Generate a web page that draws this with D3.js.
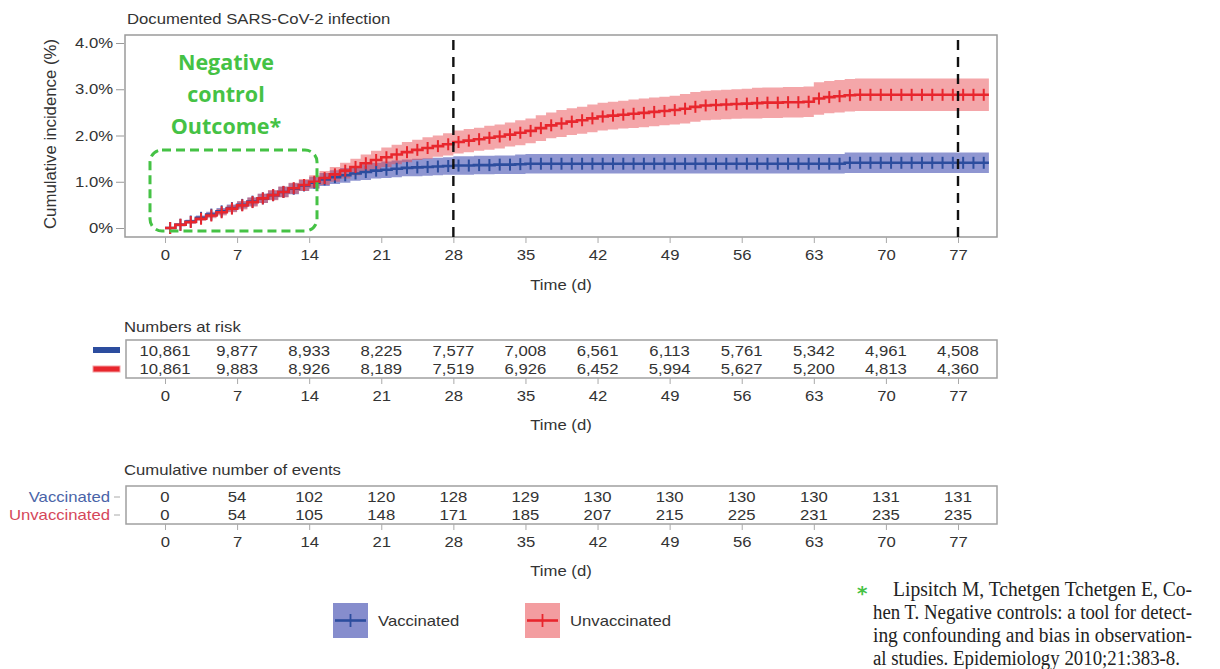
<!DOCTYPE html>
<html>
<head>
<meta charset="utf-8">
<script src="https://cdn.jsdelivr.net/npm/d3@7"></script>
<style>
  body { margin: 0; background: #fff; }
  svg text { font-family: "Liberation Sans", Arial, sans-serif; fill: #333; }
</style>
</head>
<body>
<svg id="chart" width="1220" height="669"></svg>
<script>
// ---- data ----
const tickDays = [0, 7, 14, 21, 28, 35, 42, 49, 56, 63, 70, 77];
const yTicks = [0, 1, 2, 3, 4];
const cutoffDays = [28, 77];
const days = d3.range(0, 81); // one estimate per day

// cumulative incidence (%), vaccinated
const vaxEst = [
  0.00, 0.07, 0.14, 0.22, 0.29, 0.36, 0.43, 0.50, 0.57, 0.64,
  0.71, 0.78, 0.85, 0.92, 0.98, 1.05, 1.10, 1.14, 1.18, 1.21,
  1.24, 1.26, 1.28, 1.30, 1.31, 1.32, 1.33, 1.34, 1.35, 1.35,
  1.36, 1.36, 1.37, 1.37, 1.38, 1.39, 1.39, 1.39, 1.39, 1.39,
  1.39, 1.39, 1.39, 1.39, 1.39, 1.39, 1.39, 1.39, 1.39, 1.39,
  1.39, 1.39, 1.39, 1.39, 1.39, 1.39, 1.39, 1.39, 1.39, 1.39,
  1.39, 1.39, 1.39, 1.39, 1.39, 1.39, 1.41, 1.41, 1.41, 1.41,
  1.41, 1.41, 1.41, 1.41, 1.41, 1.41, 1.41, 1.41, 1.41, 1.41,
  1.41
];
// half width of the 95% band, vaccinated
const vaxHalf = [
  0.00, 0.03, 0.04, 0.05, 0.06, 0.07, 0.08, 0.08, 0.09, 0.10,
  0.10, 0.11, 0.12, 0.12, 0.13, 0.14, 0.15, 0.16, 0.16, 0.17,
  0.17, 0.18, 0.18, 0.18, 0.19, 0.19, 0.19, 0.19, 0.20, 0.20,
  0.20, 0.20, 0.20, 0.20, 0.21, 0.21, 0.21, 0.21, 0.21, 0.21,
  0.21, 0.21, 0.21, 0.21, 0.21, 0.21, 0.21, 0.21, 0.21, 0.21,
  0.21, 0.21, 0.21, 0.21, 0.21, 0.21, 0.21, 0.21, 0.21, 0.21,
  0.21, 0.21, 0.21, 0.21, 0.21, 0.21, 0.22, 0.22, 0.22, 0.22,
  0.22, 0.22, 0.22, 0.22, 0.22, 0.22, 0.22, 0.22, 0.22, 0.22,
  0.22
];
// cumulative incidence (%), unvaccinated
const unvEst = [
  0.00, 0.07, 0.13, 0.20, 0.27, 0.34, 0.42, 0.49, 0.56, 0.64,
  0.71, 0.78, 0.86, 0.93, 1.00, 1.08, 1.16, 1.24, 1.32, 1.40,
  1.47, 1.53, 1.59, 1.64, 1.69, 1.73, 1.77, 1.81, 1.86, 1.89,
  1.92, 1.95, 1.98, 2.02, 2.06, 2.10, 2.16, 2.22, 2.26, 2.30,
  2.33, 2.37, 2.41, 2.43, 2.45, 2.47, 2.49, 2.51, 2.53, 2.55,
  2.58, 2.62, 2.65, 2.66, 2.67, 2.68, 2.69, 2.70, 2.71, 2.71,
  2.72, 2.72, 2.73, 2.80, 2.83, 2.85, 2.87, 2.88, 2.88, 2.88,
  2.88, 2.88, 2.88, 2.88, 2.88, 2.88, 2.88, 2.88, 2.88, 2.88,
  2.88
];
// half width of the 95% band, unvaccinated
const unvHalf = [
  0.00, 0.03, 0.04, 0.05, 0.06, 0.07, 0.08, 0.09, 0.10, 0.10,
  0.11, 0.12, 0.12, 0.13, 0.14, 0.15, 0.16, 0.17, 0.18, 0.19,
  0.20, 0.21, 0.21, 0.22, 0.22, 0.23, 0.23, 0.24, 0.25, 0.25,
  0.25, 0.26, 0.26, 0.26, 0.27, 0.27, 0.28, 0.28, 0.29, 0.29,
  0.29, 0.30, 0.30, 0.30, 0.30, 0.31, 0.31, 0.31, 0.31, 0.31,
  0.32, 0.32, 0.32, 0.32, 0.32, 0.32, 0.32, 0.33, 0.33, 0.33,
  0.33, 0.33, 0.33, 0.35, 0.35, 0.35, 0.35, 0.35, 0.35, 0.35,
  0.35, 0.35, 0.35, 0.35, 0.35, 0.35, 0.35, 0.35, 0.35, 0.35,
  0.35
];

const atRiskVax = [10861, 9877, 8933, 8225, 7577, 7008, 6561, 6113, 5761, 5342, 4961, 4508];
const atRiskUnv = [10861, 9883, 8926, 8189, 7519, 6926, 6452, 5994, 5627, 5200, 4813, 4360];
const eventsVax = [0, 54, 102, 120, 128, 129, 130, 130, 130, 130, 131, 131];
const eventsUnv = [0, 54, 105, 148, 171, 185, 207, 215, 225, 231, 235, 235];

const groupNames = ["Vaccinated", "Unvaccinated"];
const footnote = [
  "Lipsitch M, Tchetgen Tchetgen E, Co-",
  "hen T. Negative controls: a tool for detect-",
  "ing confounding and bias in observation-",
  "al studies. Epidemiology 2010;21:383-8."
];

// ---- colours ----
const blueLine = "#2c4d9e", redLine = "#e8262d";
const blueBand = "#4b55b5", redBand = "#e8454c";
const green = "#45c245";

const svg = d3.select("#chart");

// scales
const x = d3.scaleLinear().domain([0, 77]).range([165, 958]);
const y = d3.scaleLinear().domain([0, 4]).range([228, 43]);

// main panel frame
const frame = { left: 125, top: 35, right: 997, bottom: 237 };
svg.append("rect")
  .attr("x", frame.left).attr("y", frame.top)
  .attr("width", frame.right - frame.left).attr("height", frame.bottom - frame.top)
  .attr("fill", "#fff").attr("stroke", "#9a9a9a").attr("stroke-width", 1.5);

svg.append("text").attr("class", "sx")
  .attr("x", 127).attr("y", 24).attr("font-size", 14.5)
  .text("Documented SARS-CoV-2 infection");

// y axis
const yAxis = svg.append("g")
  .attr("transform", `translate(${frame.left - 1},0)`)
  .call(d3.axisLeft(y).tickValues(yTicks).tickSize(8).tickPadding(3)
    .tickFormat(d => d === 0 ? "0%" : d.toFixed(1) + "%"));
yAxis.select(".domain").remove();
yAxis.selectAll("line").attr("stroke", "#999");
yAxis.selectAll("text").attr("class", "sx").attr("font-size", 14.5);

svg.append("text")
  .attr("transform", "translate(56,134) rotate(-90)")
  .attr("text-anchor", "middle").attr("font-size", 16)
  .attr("textLength", 190).attr("lengthAdjust", "spacingAndGlyphs")
  .text("Cumulative incidence (%)");

// x axis helper (used for the plot and both tables)
function drawXAxis(top, labelTop) {
  const g = svg.append("g")
    .attr("transform", `translate(0,${top})`)
    .call(d3.axisBottom(x).tickValues(tickDays).tickSize(6).tickPadding(7));
  g.select(".domain").remove();
  g.selectAll("line").attr("stroke", "#aaa");
  g.selectAll("text").attr("class", "sx").attr("font-size", 14.5);
  svg.append("text").attr("class", "sx")
    .attr("x", (frame.left + frame.right) / 2).attr("y", labelTop)
    .attr("text-anchor", "middle").attr("font-size", 14.5)
    .text("Time (d)");
}
drawXAxis(frame.bottom, 290);

// curves
const series = [
  { est: vaxEst, half: vaxHalf, line: blueLine, band: blueBand, op: 0.62 },
  { est: unvEst, half: unvHalf, line: redLine, band: redBand, op: 0.48 }
];

const area = s => d3.area().curve(d3.curveStepAfter)
  .x((d, i) => x(days[i]))
  .y0((d, i) => y(s.est[i] - s.half[i]))
  .y1((d, i) => y(s.est[i] + s.half[i]));
const line = s => d3.line().curve(d3.curveStepAfter)
  .x((d, i) => x(days[i]))
  .y((d, i) => y(s.est[i]));

series.forEach(s => {
  svg.append("path").datum(days)
    .attr("d", area(s)).attr("fill", s.band).attr("fill-opacity", s.op);
});
series.forEach(s => {
  svg.append("path").datum(days)
    .attr("d", line(s)).attr("fill", "none")
    .attr("stroke", s.line).attr("stroke-width", 2.6);
  // censor marks, one per day
  svg.append("g").selectAll("line")
    .data(days.slice(0, -1))
    .join("line")
    .attr("x1", d => x(d + 0.5)).attr("x2", d => x(d + 0.5))
    .attr("y1", d => y(s.est[d]) - 6).attr("y2", d => y(s.est[d]) + 6)
    .attr("stroke", s.line).attr("stroke-width", 2);
});

// dashed cut-offs
svg.append("g").selectAll("line")
  .data(cutoffDays)
  .join("line")
  .attr("x1", d => x(d)).attr("x2", d => x(d))
  .attr("y1", 40).attr("y2", frame.bottom)
  .attr("stroke", "#111").attr("stroke-width", 2.4)
  .attr("stroke-dasharray", "10,7");

// negative control annotation
svg.append("rect")
  .attr("x", 150).attr("y", 150).attr("width", 167).attr("height", 81)
  .attr("rx", 12).attr("fill", "none")
  .attr("stroke", green).attr("stroke-width", 3)
  .attr("stroke-dasharray", "9,5");
["Negative", "control", "Outcome*"].forEach((t, i) => {
  svg.append("text")
    .attr("x", 226).attr("y", 70 + i * 32)
    .attr("text-anchor", "middle")
    .style("font-family", "'Open Sans', sans-serif")
    .style("font-weight", 700).style("font-size", "21.5px")
    .style("fill", green)
    .text(t);
});

// tables
function drawTable(opts) {
  svg.append("text").attr("class", "sx")
    .attr("x", 124).attr("y", opts.titleY).attr("font-size", 14.5)
    .text(opts.title);
  svg.append("rect")
    .attr("x", 126).attr("y", opts.top)
    .attr("width", 871).attr("height", 38)
    .attr("fill", "none").attr("stroke", "#a0a0a0").attr("stroke-width", 1.5);
  opts.rows.forEach((vals, r) => {
    svg.append("g").selectAll("text")
      .data(vals)
      .join("text")
      .attr("class", "sx")
      .attr("x", (d, i) => x(tickDays[i]))
      .attr("y", opts.top + 16 + r * 18)
      .attr("text-anchor", "middle").attr("font-size", 14.5)
      .text(opts.fmt);
  });
  drawXAxis(opts.top + 38, opts.timeY);
}

drawTable({ title: "Numbers at risk", titleY: 332, top: 340, timeY: 430,
  rows: [atRiskVax, atRiskUnv], fmt: d3.format(",") });
drawTable({ title: "Cumulative number of events", titleY: 475, top: 486, timeY: 576,
  rows: [eventsVax, eventsUnv], fmt: d => d });

// colour keys of the numbers-at-risk table
svg.append("rect").attr("x", 93).attr("y", 347).attr("width", 27).attr("height", 6)
  .attr("fill", blueLine);
svg.append("rect").attr("x", 93).attr("y", 366).attr("width", 27).attr("height", 6)
  .attr("fill", redLine).attr("stroke", "#f3a0a3").attr("stroke-width", 1);

// row names of the events table
const rowColours = ["#4a64a8", "#d5475a"];
groupNames.forEach((name, r) => {
  const ry = 486 + 11 + r * 18;
  svg.append("text").attr("class", "sx")
    .attr("x", 110).attr("y", ry + 5)
    .attr("text-anchor", "end").attr("font-size", 14.5)
    .style("fill", rowColours[r])
    .text(name);
  svg.append("line").attr("x1", 114).attr("x2", 120)
    .attr("y1", ry).attr("y2", ry).attr("stroke", "#aaa");
});

// legend
const legendX = [333, 525];
groupNames.forEach((name, i) => {
  const s = series[i];
  const g = svg.append("g").attr("transform", `translate(${legendX[i]},603)`);
  g.append("rect").attr("width", 35).attr("height", 35)
    .attr("fill", s.band).attr("fill-opacity", s.op + 0.05);
  g.append("line").attr("x1", 2).attr("x2", 33).attr("y1", 17.5).attr("y2", 17.5)
    .attr("stroke", s.line).attr("stroke-width", 2.6);
  g.append("line").attr("x1", 17.5).attr("x2", 17.5).attr("y1", 11).attr("y2", 24)
    .attr("stroke", s.line).attr("stroke-width", 1.8);
  g.append("text").attr("class", "sx")
    .attr("x", 45).attr("y", 23).attr("font-size", 14.5)
    .text(name);
});

// reference footnote
svg.append("text")
  .attr("x", 857).attr("y", 600)
  .style("font-family", "'DejaVu Sans', sans-serif").style("font-weight", 700)
  .style("font-size", "20px").style("fill", green)
  .text("*");
const noteX = [893, 873, 873, 873];
const noteW = [299, 319, 319, 307];
footnote.forEach((t, i) => {
  svg.append("text")
    .attr("x", noteX[i]).attr("y", 596 + i * 23)
    .style("font-family", "'Liberation Serif', 'Times New Roman', serif")
    .style("font-size", "20px").style("fill", "#222")
    .attr("textLength", noteW[i]).attr("lengthAdjust", "spacingAndGlyphs")
    .text(t);
});

// the source figure is stretched sideways, widen the sans-serif text to match
svg.selectAll("text.sx").each(function () {
  const w = this.getComputedTextLength();
  d3.select(this).attr("textLength", w * 1.15).attr("lengthAdjust", "spacingAndGlyphs");
});
</script>
</body>
</html>
